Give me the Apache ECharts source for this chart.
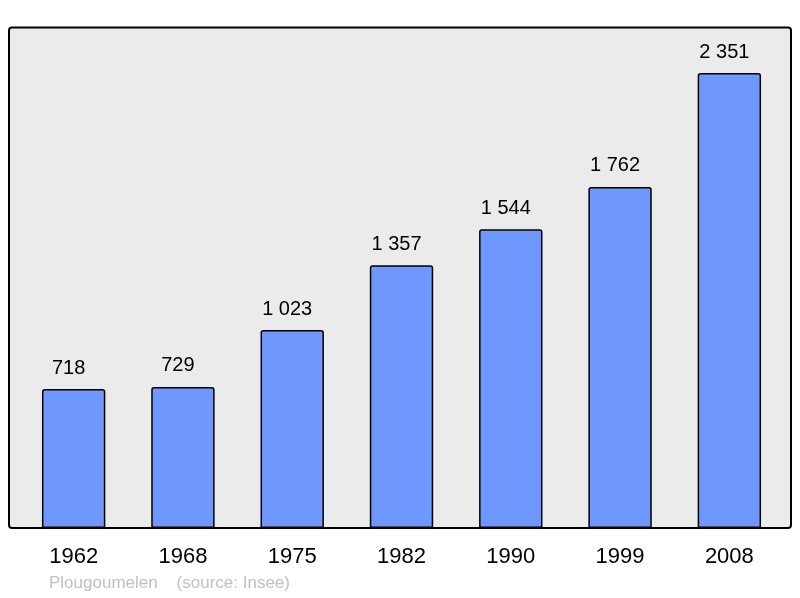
<!DOCTYPE html>
<html><head><meta charset="utf-8">
<script src="https://cdn.jsdelivr.net/npm/echarts@6/dist/echarts.min.js"></script>
<style>html,body{margin:0;padding:0;background:#fff}#c{width:800px;height:598px}</style>
</head><body><div id="c"></div>
<script>
const years = ['1962','1968','1975','1982','1990','1999','2008'];
const population = [718, 729, 1023, 1357, 1544, 1762, 2351];
const footer = 'Plougoumelen    (source: Insee)';

function fmt(v){ return String(v).replace(/\B(?=(\d{3})+(?!\d))/g, '\u00a0'); }

const chart = echarts.init(document.getElementById('c'), null, {renderer:'canvas'});
chart.setOption({
  animation:false,
  backgroundColor:'#ffffff',
  graphic:[
    {type:'rect', shape:{x:9, y:27.5, width:782, height:500.5, r:3}, style:{fill:'#ebebeb', stroke:'#000', lineWidth:2}, z:-10},
    {type:'text', left:49, top:575, style:{text:footer, fill:'#c0c0c0', font:'17px "Liberation Sans", Arial, sans-serif'}}
  ],
  grid:{left:19, right:16, top:27, bottom:70, containLabel:false},
  xAxis:{type:'category', data:years,
    axisLine:{show:false}, axisTick:{show:false},
    axisLabel:{color:'#000', fontSize:22, fontFamily:'"Liberation Sans", Arial, sans-serif', margin:18}},
  yAxis:{type:'value', min:0, max:2588.6, show:false, splitLine:{show:false}},
  series:[{type:'bar', data:population, barCategoryGap:'42%',
    itemStyle:{color:'#6f98fe', borderColor:'#000', borderWidth:1.5, borderRadius:[2,2,0,0]},
    label:{show:true, position:'top', distance:11, offset:[-5,0], color:'#000', fontSize:20,
      fontFamily:'"Liberation Sans", Arial, sans-serif', formatter:p=>fmt(p.value)}}]
});
</script></body></html>
